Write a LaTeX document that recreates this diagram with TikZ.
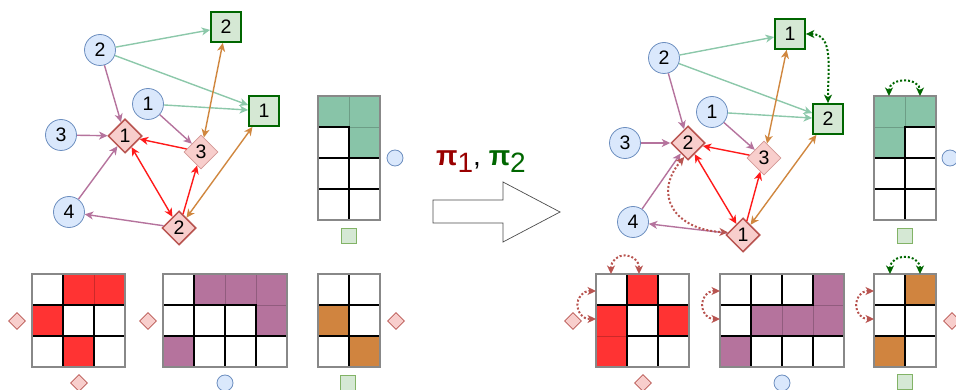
\documentclass[tikz,border=0pt]{standalone}
\usepackage{fontspec}
\setmainfont{Liberation Sans}
\usetikzlibrary{shapes.geometric,arrows.meta}
\definecolor{cfill}{HTML}{DAE8FC}
\definecolor{cdraw}{HTML}{6C8EBF}
\definecolor{dfill}{HTML}{F8CECC}
\definecolor{ddraw}{HTML}{B85450}
\definecolor{sfill}{HTML}{D5E8D4}
\definecolor{sdraw}{HTML}{82B366}
\definecolor{dkgreen}{HTML}{006600}
\definecolor{dkred}{HTML}{990000}
\definecolor{egreen}{HTML}{8CC8AA}
\definecolor{epurple}{HTML}{B5739D}
\definecolor{ered}{HTML}{FF1A1A}
\definecolor{eorange}{HTML}{D0873F}
\definecolor{mred}{HTML}{FF3333}
\definecolor{mgreen}{HTML}{88C4A8}
\definecolor{morange}{HTML}{D0843F}
\definecolor{gridgray}{HTML}{888888}
% #1 x0, #2 y0, #3 cols, #4 rows, #5 colour, #6 filled cells, #7 white cells
\newcommand\mymat[7]{%
  \foreach \c/\r in {#6}{\draw[fill=#5,draw=#5!80!black,line width=0.6pt] ({#1+\c*31},{#2+\r*31}) rectangle ++(31,31);}
  \foreach \c/\r in {#7}{\draw[fill=white,draw=black,line width=1.3pt] ({#1+\c*31},{#2+\r*31}) rectangle ++(31,31);}
  \draw[draw=gridgray,line width=1.3pt] (#1,#2) rectangle ++({#3*31},{#4*31});
}
\tikzset{tipx/.tip={Stealth[length=8.5pt,width=8pt,inset=2.5pt]}}
\begin{document}
\begin{tikzpicture}[x=1pt,y=-1pt,
  lab/.style={font=\fontsize{19.5}{19.5}\selectfont},
  circ/.style={lab,circle,draw=cdraw,fill=cfill,minimum size=31pt,inner sep=0pt,line width=0.8pt},
  dia/.style={lab,diamond,aspect=1,draw=ddraw,fill=dfill,minimum size=34pt,inner sep=0pt,line width=1.5pt},
  dialt/.style={dia,draw=ddraw!60!white,line width=0.8pt},
  sqn/.style={lab,rectangle,draw=dkgreen,fill=sfill,minimum size=30pt,inner sep=0pt,line width=1.8pt},
  mdia/.style={diamond,aspect=1,draw=ddraw,fill=dfill,minimum size=17pt,inner sep=0pt,line width=0.8pt},
  mcirc/.style={circle,draw=cdraw,fill=cfill,minimum size=16pt,inner sep=0pt,line width=0.8pt},
  msq/.style={rectangle,draw=sdraw,fill=sfill,minimum size=15pt,inner sep=0pt,line width=1pt},
  eG/.style={draw=egreen,line width=1.4pt,-tipx},
  eP/.style={draw=epurple,line width=1.4pt,-tipx},
  eR/.style={draw=ered,line width=1.4pt,-tipx},
  eRR/.style={draw=ered,line width=1.4pt,tipx-tipx},
  eOO/.style={draw=eorange,line width=1.4pt,tipx-tipx},
  dotG/.style={draw=dkgreen,line width=2pt,dash pattern=on 2pt off 2pt,tipx-tipx},
  dotR/.style={draw=ddraw,line width=2pt,dash pattern=on 2pt off 2pt,tipx-tipx},
]
\useasboundingbox (0,0) rectangle (956,390);

% ---------- left graph ----------
\node[circ] (L2) at (100,50) {2};
\node[sqn] (LS2) at (226,27) {2};
\node[circ] (L1) at (148,104) {1};
\node[sqn] (LS1) at (264,111) {1};
\node[circ] (L3) at (61,135) {3};
\node[dia] (LD1) at (125,136) {1};
\node[dialt] (LD3) at (201,152) {3};
\node[circ] (L4) at (69,212) {4};
\node[dia] (LD2) at (179,228) {2};

\draw[eG] (L2) -- (LS2);
\draw[eG] (L2) -- (LS1);
\draw[eG] (L1) -- (LS1);
\draw[eP] (L2) -- (LD1);
\draw[eP] (L3) -- (LD1);
\draw[eP] (L4) -- (LD1);
\draw[eP] (L1) -- (LD3);
\draw[eP] (LD2) -- (L4);
\draw[eR] (LD3) -- (LD1);
\draw[eRR] (LD1) -- (LD2);
\draw[eR] (LD2) -- (LD3);
\draw[eOO] (LD3) -- (LS2);
\draw[eOO] (LD2) -- (LS1);

% ---------- right graph ----------
\node[circ] (R2) at (664,58) {2};
\node[sqn] (RS1) at (790,34) {1};
\node[circ] (R1) at (712,112) {1};
\node[sqn] (RS2) at (828,119) {2};
\node[circ] (R3) at (625,143) {3};
\node[dia] (RD2) at (688,143) {2};
\node[dialt] (RD3) at (764,158) {3};
\node[circ] (R4) at (633,222) {4};
\node[dia] (RD1) at (743,235) {1};

\draw[eG] (R2) -- (RS1);
\draw[eG] (R2) -- (RS2);
\draw[eG] (R1) -- (RS2);
\draw[eP] (R2) -- (RD2);
\draw[eP] (R3) -- (RD2);
\draw[eP] (R4) -- (RD2);
\draw[eP] (R1) -- (RD3);
\draw[eP] (RD1) -- (R4);
\draw[eR] (RD3) -- (RD2);
\draw[eRR] (RD2) -- (RD1);
\draw[eR] (RD1) -- (RD3);
\draw[eOO] (RD3) -- (RS1);
\draw[eOO] (RD1) -- (RS2);
\draw[dotG] (RS1.east) .. controls +(28,0) and +(0,-35) .. (RS2.north);
\draw[dotR] (RD2.-105) .. controls (652,195) and (675,230) .. (RD1.170);

% ---------- centre ----------
\draw[draw=black!70,fill=white,line width=0.7pt]
  (433,200) -- (503,200) -- (503,182) -- (560,212) -- (503,242) -- (503,223) -- (433,223) -- cycle;
\node[font=\fontsize{28}{28}\selectfont,inner sep=0pt] (pi) at (481,162)
  {\textcolor{dkred}{\textbf{π}\raisebox{-7pt}{1}}, \textcolor{dkgreen}{\textbf{π}\raisebox{-7pt}{2}}};

% ---------- left matrices ----------
\mymat{318}{96}{2}{4}{mgreen}{0/0,1/0,1/1}{0/1,0/2,1/2,0/3,1/3}
\node[mcirc] (lmc1) at (395,158) {};
\node[msq] (lms1) at (349,236) {};

\mymat{32}{274}{3}{3}{mred}{1/0,2/0,0/1,1/2}{0/0,1/1,2/1,0/2,2/2}
\node[mdia] (lmd1) at (17,321) {};
\node[mdia] (lmd2) at (79,383) {};
\mymat{163}{274}{4}{3}{epurple}{1/0,2/0,3/0,3/1,0/2}{0/0,0/1,1/1,2/1,1/2,2/2,3/2}
\node[mdia] (lmd3) at (148,321) {};
\node[mcirc] (lmc2) at (225,383) {};
\mymat{318}{274}{2}{3}{morange}{0/1,1/2}{0/0,1/0,1/1,0/2}
\node[mdia] (lmd4) at (396,321) {};
\node[msq] (lms2) at (348,383) {};

% ---------- right matrices ----------
\mymat{874}{96}{2}{4}{mgreen}{0/0,1/0,0/1}{1/1,0/2,1/2,0/3,1/3}
\node[mcirc] (rmc1) at (950,158) {};
\node[msq] (rms1) at (905,236) {};
\coordinate (g1) at (889,96); \coordinate (g2) at (920,96);
\draw[dotG] (g1) .. controls (889,77) and (920,77) .. (g2);

\mymat{596}{274}{3}{3}{mred}{1/0,0/1,2/1,0/2}{0/0,2/0,1/1,1/2,2/2}
\node[mdia] (rmd1) at (573,321) {};
\node[mdia] (rmd2) at (643,383) {};
\coordinate (a1) at (611,274); \coordinate (a2) at (639,274);
\draw[dotR] (a1) .. controls (611,251) and (639,251) .. (a2);
\coordinate (a3) at (596,291); \coordinate (a4) at (596,319);
\draw[dotR] (a3) .. controls (573,291) and (573,319) .. (a4);

\mymat{720}{274}{4}{3}{epurple}{3/0,1/1,2/1,3/1,0/2}{0/0,1/0,2/0,0/1,1/2,2/2,3/2}
\node[mcirc] (rmc2) at (782,383) {};
\coordinate (b1) at (720,291); \coordinate (b2) at (720,319);
\draw[dotR] (b1) .. controls (698,291) and (698,319) .. (b2);

\mymat{874}{274}{2}{3}{morange}{1/0,0/2}{0/0,0/1,1/1,1/2}
\node[mdia] (rmd3) at (952,321) {};
\node[msq] (rms2) at (905,382) {};
\coordinate (c1) at (890,274); \coordinate (c2) at (920,274);
\draw[dotG] (c1) .. controls (890,253) and (920,253) .. (c2);
\coordinate (c3) at (874,291); \coordinate (c4) at (874,319);
\draw[dotR] (c3) .. controls (852,291) and (852,319) .. (c4);
\end{tikzpicture}
\end{document}
